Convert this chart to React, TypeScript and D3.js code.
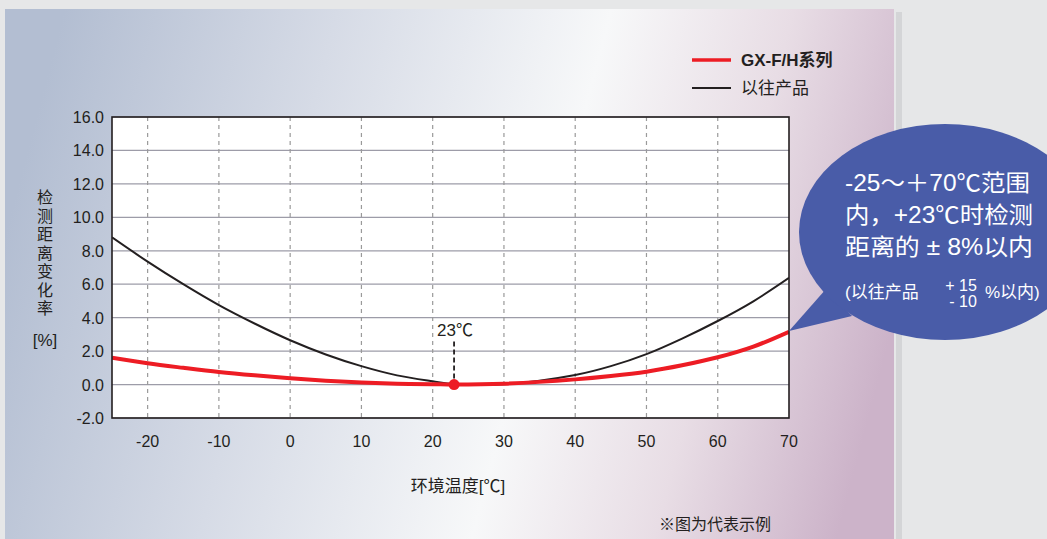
import React from "react";
import * as d3 from "d3";

const temps = [-25, -20, -15, -10, -5, 0, 5, 10, 15, 20, 23, 30, 40, 45, 50, 55, 60, 65, 70];
const newSeries = [1.6, 1.27, 1.0, 0.75, 0.55, 0.38, 0.23, 0.12, 0.05, 0.02, 0.0, 0.05, 0.31, 0.51, 0.77, 1.15, 1.63, 2.27, 3.16];
const oldSeries = [8.8, 7.35, 6.0, 4.75, 3.65, 2.65, 1.8, 1.1, 0.55, 0.2, 0.03, 0.02, 0.57, 1.1, 1.82, 2.75, 3.8, 4.98, 6.38];
const xTicks = [-20, -10, 0, 10, 20, 30, 40, 50, 60, 70];
const yTicks = [-2, 0, 2, 4, 6, 8, 10, 12, 14, 16];
const seriesNames = ["GX-F/H系列", "以往产品"];
const refTemp = 23;
const yLabelChars = ["检", "测", "距", "离", "变", "化", "率"];

const FONT = "'Liberation Sans', Arial, 'Noto Sans CJK SC', sans-serif";

export default function App() {
  const W = 1047, H = 539;
  const x = d3.scaleLinear().domain([-25, 70]).range([112, 789]);
  const y = d3.scaleLinear().domain([-2, 16]).range([418, 117]);
  const line = d3.line<[number, number]>()
    .x(d => x(d[0])).y(d => y(d[1])).curve(d3.curveCatmullRom.alpha(0.5));
  const newPts = temps.map((t, i) => [t, newSeries[i]] as [number, number]);
  const oldPts = temps.map((t, i) => [t, oldSeries[i]] as [number, number]);
  const refVal = newSeries[temps.indexOf(refTemp)];

  return (
    <svg width={W} height={H} style={{ position: "absolute", left: 0, top: 0, display: "block" }}
      fontFamily={FONT}>
      <defs>
        <linearGradient id="bg" x1="0" y1="0.42" x2="1" y2="0.58">
          <stop offset="0" stopColor="#b3bed2" />
          <stop offset="0.3" stopColor="#d6dbe6" />
          <stop offset="0.6" stopColor="#f7f8f9" />
          <stop offset="0.8" stopColor="#e8dde5" />
          <stop offset="1" stopColor="#ccb3c9" />
        </linearGradient>
        <clipPath id="plotClip">
          <rect x={112} y={117} width={677} height={301} />
        </clipPath>
      </defs>
      <rect x={0} y={0} width={W} height={H} fill="#e6e7e8" />
      <rect x={896} y={12} width={6} height={H} fill="#d4d5d7" />
      <rect x={5} y={9} width={889} height={H} fill="url(#bg)" />

      {/* plot area */}
      <rect x={112} y={117} width={677} height={301} fill="#ffffff" />
      {yTicks.map(t => (
        <line key={"h" + t} x1={112} x2={789} y1={y(t)} y2={y(t)} stroke="#9d9ca8" strokeWidth={1.2} />
      ))}
      {xTicks.filter(t => t < 70).map(t => (
        <line key={"v" + t} x1={x(t)} x2={x(t)} y1={117} y2={418} stroke="#9a9a9a" strokeWidth={1.2} strokeDasharray="4,4" />
      ))}
      <g clipPath="url(#plotClip)">
        <path d={line(oldPts) || ""} fill="none" stroke="#231f20" strokeWidth={2} />
        <path d={line(newPts) || ""} fill="none" stroke="#ed1c24" strokeWidth={4} />
      </g>
      <rect x={112} y={117} width={677} height={301} fill="none" stroke="#231f20" strokeWidth={1.6} />

      {/* reference marker */}
      <line x1={x(refTemp)} x2={x(refTemp)} y1={y(refVal) - 6} y2={y(refVal) - 44} stroke="#231f20" strokeWidth={1.8} strokeDasharray="5,3" />
      <circle cx={x(refTemp)} cy={y(refVal)} r={5.5} fill="#ed1c24" />
      <text x={x(refTemp) + 1} y={336} textAnchor="middle" fontSize={17} fill="#231f20">23℃</text>

      {/* y ticks */}
      {yTicks.map(t => (
        <text key={"yt" + t} x={104} y={y(t) + 6} textAnchor="end" fontSize={16} fill="#231f20">{t.toFixed(1)}</text>
      ))}
      {/* x ticks */}
      {xTicks.map(t => (
        <text key={"xt" + t} x={x(t)} y={447} textAnchor="middle" fontSize={16} fill="#231f20">{t}</text>
      ))}

      {/* axis titles */}
      {yLabelChars.map((c, i) => (
        <text key={"yl" + i} x={45} y={203 + i * 18.5} textAnchor="middle" fontSize={16} fill="#231f20">{c}</text>
      ))}
      <text x={45} y={346} textAnchor="middle" fontSize={17} fill="#231f20">[%]</text>
      <text x={458} y={492} textAnchor="middle" fontSize={17} fill="#231f20">环境温度[℃]</text>

      {/* legend */}
      <line x1={692} x2={731} y1={60} y2={60} stroke="#ed1c24" strokeWidth={3.5} />
      <text x={741} y={66} fontSize={17} fontWeight="bold" fill="#231f20">{seriesNames[0]}</text>
      <line x1={692} x2={731} y1={88} y2={88} stroke="#231f20" strokeWidth={2} />
      <text x={741} y={94} fontSize={17} fill="#231f20">{seriesNames[1]}</text>

      {/* note */}
      <text x={659} y={530} fontSize={16} fill="#231f20">※图为代表示例</text>

      {/* callout */}
      <path d="M789,331 L826,289 L852,316 Z" fill="#495ca8" />
      <ellipse cx={945} cy={232} rx={146} ry={108} fill="#495ca8" />
      <g fill="#ffffff" fontSize={23}>
        <text x={845} y={191} textLength={185} lengthAdjust="spacingAndGlyphs">-25～＋70℃范围</text>
        <text x={845} y={223} textLength={188} lengthAdjust="spacingAndGlyphs">内，+23℃时检测</text>
        <text x={845} y={255} textLength={188} lengthAdjust="spacingAndGlyphs">距离的 ± 8%以内</text>
        <text x={845} y={298} fontSize={17}>(以往产品</text>
        <text x={961} y={291} fontSize={16} textAnchor="middle">+ 15</text>
        <text x={963} y={307} fontSize={16} textAnchor="middle">- 10</text>
        <text x={985} y={298} fontSize={17}>%以内)</text>
      </g>
    </svg>
  );
}
